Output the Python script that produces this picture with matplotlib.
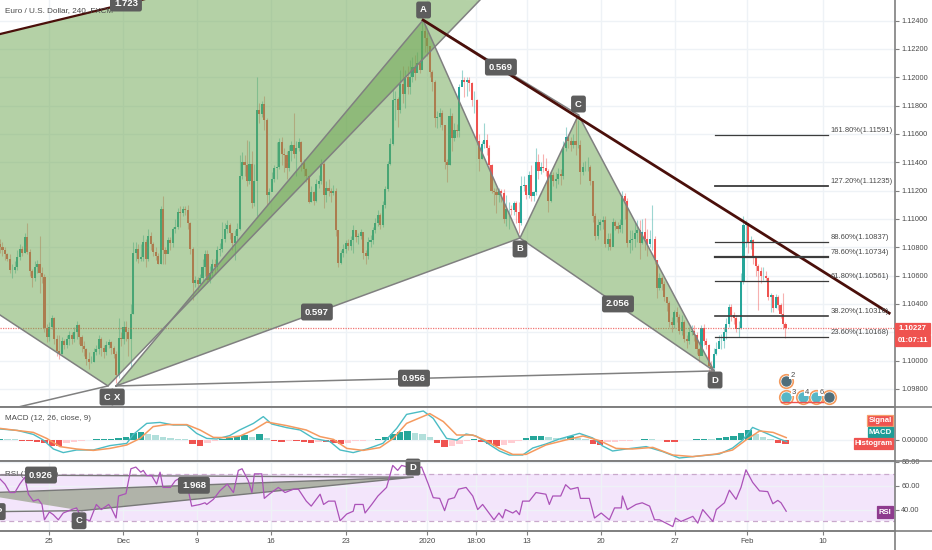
#!/usr/bin/env python3
import numpy as np
import matplotlib
matplotlib.use('Agg')
import matplotlib.pyplot as plt
from matplotlib.lines import Line2D
from matplotlib.patches import Rectangle

plt.rcParams['font.family'] = ['Liberation Sans', 'DejaVu Sans']

# candles, pips above 1.10000, one per 4h bar
closes = [80,78,75,72,64,64,66,73,79,76, 87,77,63,58,66,68,62,59,23,17,
          24,30,15,7,5,14,11,15,18,15, 20,25,17,10,8,1,-1,-1,6,8,
          15,9,6,11,13,9,5,-10,16,15, 24,20,15,33,76,79,72,73,84,72,
          88,82,77,74,68,107,78,75,85,83, 93,94,105,104,107,106,97,79,55,57,
          54,58,66,75,57,62,68,66,78,79, 86,93,96,90,83,88,93,130,140,138,
          127,139,111,127,177,174,181,170,117,119, 128,136,137,154,146,145,136,148,152,146,
          150,154,140,135,130,112,119,113,125,127, 139,117,122,120,118,120,92,69,76,79,
          83,81,85,92,87,88,91,76,74,84, 85,92,97,103,96,110,121,139,153,184,
          185,177,195,188,200,193,200,207,203,210, 205,233,228,222,204,197,171,172,175,166,
          140,138,173,157,163,162,193,198,197,198, 196,184,184,155,142,153,156,150,138,120,
          119,117,120,118,100,107,107,106,111,105, 97,123,124,117,131,116,119,140,134,137,
          136,134,113,131,127,128,132,130,150,158, 155,152,155,152,152,133,137,137,137,127,
          102,88,96,98,99,82,86,80,98,95, 93,96,116,113,83,85,86,90,92,83,
          91,86,82,86,86,71,51,58,54,45, 41,27,25,34,31,21,27,15,14,20,
          21,18,8,3,23,14,11,-4,-5,5, 8,14,14,20,26,38,32,30,22,23,
          56,96,97,84,85,73,67,63,60,60, 58,45,46,37,45,39,33,26,23]
highs = [86,84,80,76,75,68,70,78,82,81, 90,97,79,65,70,71,88,66,61,26,
         27,32,31,18,18,17,15,18,21,20, 24,28,26,18,14,9,6,3,9,11,
         18,17,11,14,15,14,10,7,30,20, 28,28,22,40,84,84,82,82,89,86,
         93,91,84,80,76,109,116,80,87,87, 94,100,108,109,109,109,110,98,80,60,
         59,61,72,78,78,67,72,72,81,83, 98,97,99,97,90,92,97,145,147,145,
         156,155,148,139,200,182,183,187,171,122, 133,138,154,157,158,150,148,152,155,175,
         155,157,155,142,136,131,123,120,128,131, 142,140,127,128,122,124,122,92,78,82,
         85,86,88,96,90,90,93,91,78,87, 89,94,101,106,104,113,123,141,157,192,
         190,186,205,208,205,208,212,214,216,218, 212,240,237,232,218,205,198,176,178,177,
         166,142,178,175,168,167,195,205,200,200, 200,197,190,185,160,155,168,160,152,139,
         122,122,122,121,121,117,112,110,113,113, 112,130,130,124,134,138,120,150,146,140,
         146,143,135,133,133,133,136,135,155,165, 160,158,160,171,170,156,140,141,144,138,
         127,104,100,100,102,102,90,90,101,99, 98,100,120,118,115,92,92,98,99,99,
         100,101,93,92,110,88,71,62,60,56, 45,42,31,36,38,33,32,29,18,24,
         25,25,20,9,25,26,16,12,0,9, 13,18,19,24,30,40,40,34,32,28,
         62,102,99,97,88,86,74,68,66,66, 63,59,48,46,47,46,41,48,27]
lows = [76,74,71,70,62,58,62,64,71,74, 76,75,60,52,56,62,48,55,20,13,
        14,22,12,3,1,5,8,9,11,12, 13,15,12,6,3,-3,-6,-2,-1,4,
        5,3,2,4,9,5,2,-16,-12,10, 12,14,3,-5,33,70,69,70,70,66,
        70,78,74,71,68,68,68,68,77,78, 80,90,93,94,102,103,93,75,43,52,
        50,54,56,60,55,55,60,61,64,74, 77,84,90,86,78,71,85,92,128,130,
        123,125,108,109,102,168,172,163,110,112, 124,126,128,135,138,133,128,134,141,143,
        130,148,134,130,126,111,112,110,112,122, 125,108,112,116,112,117,88,66,68,73,
        76,78,78,76,84,82,86,72,68,72, 80,82,90,95,93,94,108,120,138,152,
        170,165,175,182,178,188,188,197,198,204, 203,206,218,215,200,190,165,164,165,163,
        135,126,138,148,155,158,158,195,186,187, 190,180,175,152,134,142,150,145,135,118,
        110,104,112,112,97,95,93,103,103,97, 90,96,120,114,115,113,113,117,128,132,
        133,130,105,112,123,122,125,124,128,148, 150,148,150,145,150,125,131,134,134,124,
        98,85,86,92,93,80,78,78,83,92, 90,91,90,100,80,76,78,80,84,72,
        82,78,74,80,78,68,44,50,50,42, 35,24,20,23,27,19,18,13,9,12,
        18,14,5,-1,8,11,8,-8,-7,-7, 4,9,8,9,15,24,28,26,20,17,
        22,54,80,76,79,68,60,36,55,57, 56,43,34,34,37,36,30,22,16]
first_open = 82

# macd lines, units of 1e-4
macd_bars = [0,7,13.5,17.5,21.6,25.6,31,37.8,44.5,51.3,54,59.4,64.8,70.2,75.6,79.6,83.7,87.7,93,97,
             102.6,106.6,110,116,121.5,127,133.6,137.7,143,148.5,155,160.6,164.6,171.4,175.4,180.8,185,
             188.7,192.7,196.8,202.2,206.2,211.6,215.7,221,226.5,234.6,240,244,248,253.5,261.6,268.3,
             275,283,291.3,296.6,300.7,304.7,310,315.6,318.5]
macd_vals = [5.5,4.8,2.8,0,-4.5,-6.3,-5,-5,-2.8,-1.7,2.8,8.3,8.8,7.5,7.5,3.3,0.8,0.5,2.2,5,
             8.3,11.7,8,6.2,5,0.8,-0.8,-5,-6.3,-4.5,-1.7,5.8,12.8,14.5,10.8,0.8,0,
             3,2,-1.2,-5.5,-7.5,-7.5,-4,-2,0.5,3.3,1,-3,-5.5,-4.5,-3.3,-5.8,
             -9,-8,-7,-4,0,6.3,3.5,0.5,-0.8]
signal_bars = [0,6.7,13.5,18.9,24.3,31,37.8,44.5,51.3,56.7,62,67.5,75.6,81,86.4,91.8,97.2,102.6,108,116,
               124,129.6,135,140.4,147,153.8,159.2,164.6,174,179.5,184.9,
               191.4,196.8,202.2,207.6,213,221,229,236,242.7,249.4,256,264.3,272.4,280.5,290,296.6,
               302,307.5,313,318.3]
signal_vals = [5.8,4.8,3.8,0.8,-3.3,-4.5,-5.2,-4.2,-2.5,0.8,6.7,7.7,7.7,5,1.3,1.2,2,5,9,7.2,
               5,1.7,0.3,-4.2,-5.2,-3.8,0.8,8.3,13.2,9.2,2.5,
               2.5,-0.3,-4.2,-7.2,-7.2,-2.5,0,2,-0.3,-4.2,-4.5,-3.7,-7.5,-8.3,-7,-5,
               0,4.5,3.8,1.2]
# one histogram value per 3 bars
hist_vals = [0.6,0.5,0.3,-0.3,-0.6,-1,-1.5,-2.8,-3,-1.5,-0.8,-0.4,0.2,0.4,0.5,0.7,1,1.5,3.5,4,
             3,2.5,1.5,1,0.3,0.3,-2,-3,-1.5,-0.5,0.5,1,2,2.5,1.5,3,1,-0.6,-0.8,-0.5,
             -0.6,-1,-1.3,-0.9,-1,-1.5,-2,-1.5,-0.7,-0.3,0.2,0.7,1.5,2.8,4,4.5,3.5,3,1.5,-1.5,
             -3.5,-3.2,-2,-0.3,0.4,-1,-2,-3,-2.5,-1.5,-0.5,1,1.8,2,1.5,1,1,2,1,0.3,
             -2,-2.3,-1.2,-0.8,-0.5,-0.3,0.2,0.4,0.4,-0.2,-0.8,-1,-0.2,0.1,0.3,0.6,0.5,0.8,1.5,2,
             3.5,5,3.2,1.5,0.3,-1.5,-2]

rsi_bars = [0,2,4,6,8,10,11.5,13.5,15.5,17,18,20,21.6,23.6,25.6,29,31,33,36.4,39,41,44,45,47,48,51,53,55,57,58,
            59.4,61.4,63.4,64.8,66,69,71,73,75,76,77.6,81,83,83.7,86.4,89,92,94.5,96.5,98,100.5,102,103,106,107,
            109,112.7,115.4,118.8,120.8,124,126,129.6,131,133,135.6,137.7,140.4,143,143.7,147,147.8,150.5,153,
            156.5,159,161,162.6,165,167,170.7,173.4,175.4,178,180,181.5,184,185.6,188.7,
            191.4,193.4,195.4,200,202,203.5,204.6,207.6,209,210.3,211.6,214.3,217,221,222.4,223.8,227,229,231,
            234,235,238.6,240.7,243.4,246.7,248.8,251.5,252,254,257.5,260,263,265,267,269.7,272.4,273.5,275.7,
            280.5,282.5,284.5,288.6,290,293.3,295.3,298,300,302,304.7,307.5,310.8,312.9,314.9,316.2,318.3]
rsi_vals = [65.7,61.4,54.3,54.3,61.4,67.1,52.9,47.1,48.6,44.3,31.4,38,35.7,31.4,37.1,40,41.4,32.9,30.6,44.3,40,44.3,41.4,32.9,51.4,
            53.4,74.3,75.7,71.4,72.9,68.6,68.6,61.4,71.4,58.6,58.6,64.3,66.6,64.3,58.6,42.9,44.3,45.7,44.3,48.6,55.7,61.4,54.3,72.9,74.3,
            64.3,54.3,70,70,49.4,52.9,58.6,54.3,57.1,57.1,47.1,42.9,52.9,44.3,47.1,47.1,30.6,36.3,38.6,44.3,44.3,37.1,44.3,51.4,
            58.6,77.1,72.9,77.1,75.7,74.3,75.7,61.4,50,49.4,39.1,48.6,50,57.1,58.6,
            51.4,40,44.3,31.4,37.1,32.9,40,37.1,39.1,35.7,47.1,47.1,54.3,52.9,44.3,51.4,51.4,60.9,57.1,58.6,49.4,49.4,32.9,37.1,31.4,
            41.4,41.4,51.4,40,44.3,45.7,42.9,31.4,31.4,28.6,25.7,32.9,30,34.3,28.6,40,30,40,45.7,56.3,48.6,58.6,73.4,62.9,55.7,55.1,44.9,47.7,45.7,38.6]

# fibonacci levels and pattern drawings
fib_labels = ['161.80%(1.11591)', '127.20%(1.11235)', '88.60%(1.10837)', '78.60%(1.10734)',
              '61.80%(1.10561)', '38.20%(1.10316)', '23.60%(1.10168)']
fib_prices = [1.11591, 1.11235, 1.10837, 1.10734, 1.10561, 1.10316, 1.10168]
fib_widths = [0.9, 1.3, 0.9, 1.6, 0.9, 1.2, 0.9]
fib_start, fib_end = 289.5, 335.2

x_bar, x_price = 47, 1.09821
a_bar, a_price = 171.3, 1.12404
b_bar, b_price = 210.5, 1.10865
c_bar, c_price = 234.2, 1.11734
d_bar, d_price = 289.1, 1.09927
old_bars = [0, 58.7, 194.3, 43.7, 0]
old_prices = [1.12305, 1.12552, 1.12545, 1.09821, 1.10322]
trend_bars = [171.3, 360]
trend_prices = [1.12404, 1.10335]
old_trend_bars = [0, 58.7]
old_trend_prices = [1.12305, 1.12552]

rsi_tri_bars = [0, 167.2, 33.2, 0]
rsi_tri_vals = [54.5, 67.2, 39.1, 50.2]

price_ticks = [1.124, 1.122, 1.12, 1.118, 1.116, 1.114, 1.112, 1.11, 1.108, 1.106, 1.104, 1.102, 1.1, 1.098]
x_ticks = [20, 49.8, 79.8, 109.7, 139.9, 172.9, 192.7, 213.4, 243.3, 273.3, 302.4, 333.2]
x_labels = ['25', 'Dec', '9', '16', '23', '2020', '18:00', '13', '20', '27', 'Feb', '10']

W, H = 932.0, 550.0
GREEN = '#26a69a'
RED = '#ef5350'
FILL = (107/255, 165/255, 79/255)
GRID = '#eef2f6'
AX = '#7f7f7f'
TXT = '#4a4a4a'


def panel(top, bottom):
    return fig.add_axes([0, 1 - bottom / H, 895 / W, (bottom - top) / H])


def tag(ax, x, y, s, z=9, **kw):
    ax.text(x, y, s, color='white', fontsize=6.8, fontweight='bold', ha='center', va='center', zorder=z,
            bbox=dict(boxstyle='round,pad=0.42,rounding_size=0.25', fc='#5d5d5d', ec='none'), **kw)


def side(x0, y0, x1, y1, s, fc, ec=None):
    fig.add_artist(Rectangle((x0 / W, 1 - y1 / H), (x1 - x0) / W, (y1 - y0) / H, transform=fig.transFigure,
                             fc=fc, ec=ec or fc, lw=0.9, zorder=20))
    fig.text((x0 + x1) / 2 / W, 1 - (y0 + y1) / 2 / H, s, color='white', fontsize=5.6, fontweight='bold',
             ha='center', va='center', zorder=21)


fig = plt.figure(figsize=(W / 100, H / 100), dpi=100)
ax = panel(0, 407)
ax2 = panel(407, 461)
ax3 = panel(461, 531)

for a in (ax, ax2, ax3):
    a.set_xlim(0, 895 / 2.47)
    a.set_xticks(x_ticks)
    a.grid(True, color=GRID, lw=1)
    a.set_axisbelow(True)
    a.yaxis.tick_right()
    a.tick_params(axis='y', length=3, color=AX, labelcolor=TXT, labelsize=5.3, pad=1.5, width=0.8)
    for s in a.spines.values():
        s.set_color(AX)
        s.set_linewidth(1.2)
    a.spines['left'].set_visible(False)
ax.spines['top'].set_visible(False)

# main price panel
closes_a = np.array(closes)
opens_a = np.r_[first_open, closes_a[:-1]]
bars = np.arange(len(closes_a))
up = closes_a >= opens_a
colors = np.where(up, GREEN, RED)
to_price = lambda p: 1.10 + np.asarray(p) * 1e-4
ax.vlines(bars, to_price(lows), to_price(highs), colors=colors, lw=0.8, alpha=0.45, zorder=2)
ax.bar(bars, to_price(closes_a) - to_price(opens_a), bottom=to_price(opens_a), width=0.85, color=colors, zorder=2.5)

ax.axhline(1.10227, color=RED, lw=0.9, ls=(0, (1, 1)), alpha=0.8, zorder=3)

ax.fill(old_bars, old_prices, color=FILL, alpha=0.5, lw=0, zorder=3)
ax.fill([x_bar, a_bar, b_bar], [x_price, a_price, b_price], color=FILL, alpha=0.5, lw=0, zorder=3)
ax.fill([b_bar, c_bar, d_bar], [b_price, c_price, d_price], color=FILL, alpha=0.5, lw=0, zorder=3)
edge = dict(color='#808080', lw=1.1, zorder=4)
ax.plot([x_bar, a_bar, b_bar, c_bar, d_bar, b_bar, x_bar], [x_price, a_price, b_price, c_price, d_price, b_price, x_price], **edge)
ax.plot([x_bar, d_bar], [x_price, d_price], **edge)
ax.plot([a_bar, c_bar], [a_price, c_price], **edge)
ax.plot([0, 43.7, 194.3], [1.10322, 1.09821, 1.12545], **edge)
ax.plot([43.7, 7.3], [1.09821, 1.09672], **edge)
ax.plot(trend_bars, trend_prices, color='#4a0f0a', lw=2.0, zorder=5)
ax.plot(old_trend_bars, old_trend_prices, color='#4a0f0a', lw=1.6, zorder=5)

for p, s, w in zip(fib_prices, fib_labels, fib_widths):
    ax.plot([fib_start, fib_end], [p, p], color='#3c3c3c', lw=w, zorder=5)
    ax.text(fib_end + 1.2, p + 0.0003, s, color=TXT, fontsize=5.5, va='center', zorder=6)

tag(ax, 43.3, 1.09743, 'C', z=8)
tag(ax, 47.6, 1.09743, 'X')
tag(ax, 171.5, 1.12475, 'A')
tag(ax, 234.2, 1.11811, 'C')
tag(ax, 210.5, 1.10788, 'B')
tag(ax, 289.5, 1.09863, 'D')
tag(ax, 128.3, 1.10343, '0.597')
tag(ax, 202.8, 1.12072, '0.569')
tag(ax, 250.2, 1.104, '2.056')
tag(ax, 167.6, 1.09876, '0.956')
tag(ax, 51, 1.12524, '1.723', clip_on=True)

ax.scatter([318.2, 318.2, 325.1, 330.4, 335.6], [1.09856, 1.09743, 1.09743, 1.09743, 1.09743], s=95,
           c='white', edgecolors='#f39a5e', linewidths=1.2, zorder=6)
ax.scatter([318.2, 335.6], [1.09856, 1.09743], s=42, c='#4f6d7a', zorder=7)
ax.scatter([318.2, 325.1, 330.4], [1.09743, 1.09743, 1.09743], s=42, c='#56b6c6', zorder=7)
ax.plot([316, 320.5, 327, 329, 333], [1.09705] * 5, color=RED, lw=1, zorder=7)
for bx, py, s in [(320.8, 1.09897, '2'), (321.3, 1.09778, '3'), (326.8, 1.09778, '4'), (332.5, 1.09778, '6')]:
    ax.text(bx, py, s, color=TXT, fontsize=5.5, ha='center', va='center', zorder=8,
            bbox=dict(boxstyle='square,pad=0.1', fc='white', ec='none'))

ax.set_ylim(1.10 + (360.6 - 407) / 14167, 1.10 + 360.6 / 14167)
ax.set_yticks(price_ticks)
ax.set_yticklabels(['%.5f' % p for p in price_ticks])
ax.tick_params(axis='x', length=0, labelbottom=False)
ax.text(2, 1.12468, 'Euro / U.S. Dollar, 240, FXCM', color=TXT, fontsize=5.9, va='center', zorder=6)
side(895, 323, 930, 334, '1.10227', RED)
side(895, 335, 930, 346, '01:07:11', RED)

# macd panel
hist = np.array(hist_vals)
hist_bars = np.arange(len(hist)) * 3
prev = np.r_[0, hist[:-1]]
hist_colors = [(GREEN if h > p else '#b2dfdb') if h >= 0 else (RED if h < p else '#ffcdd2') for h, p in zip(hist, prev)]
ax2.bar(hist_bars, hist, width=2.6, color=hist_colors, zorder=2)
ax2.plot(macd_bars, macd_vals, color='#4bbcc4', lw=1.0, zorder=3)
ax2.plot(signal_bars, signal_vals, color='#f59a5f', lw=1.1, zorder=4)
ax2.set_ylim(-10.5, 16.5)
ax2.set_yticks([0])
ax2.set_yticklabels(['0.00000'])
ax2.tick_params(axis='x', length=0, labelbottom=False)
ax2.text(2, 10.5, 'MACD (12, 26, close, 9)', color=TXT, fontsize=5.8, va='center')
side(867, 415, 893, 426, 'Signal', RED, ec='#f5a06c')
side(868, 427, 893, 437, 'MACD', '#1e9c96')
side(854, 438, 893, 449, 'Histogram', RED)

# rsi panel
ax3.axhspan(30, 70, color='#f3e5fb', zorder=0.5, lw=0)
ax3.axhline(70, color='#c9a9cc', lw=0.9, ls=(0, (4, 3)), zorder=1)
ax3.axhline(30, color='#c9a9cc', lw=0.9, ls=(0, (4, 3)), zorder=1)
ax3.fill(rsi_tri_bars, rsi_tri_vals, color='#7a8a66', alpha=0.55, lw=0, zorder=2)
ax3.plot(rsi_tri_bars[:3], rsi_tri_vals[:3], color='#787878', lw=1, zorder=2)
ax3.plot([0, 167.2], [69, 67.2], color='#787878', lw=1, zorder=2)
ax3.plot([0, 33.2], [38.3, 39.1], color='#787878', lw=1, zorder=2)
ax3.plot(rsi_bars, rsi_vals, color='#ab52b8', lw=0.9, zorder=3)
ax3.set_ylim(22, 80.8)
ax3.set_yticks([40, 60, 80])
ax3.set_yticklabels(['40.00', '60.00', '80.00'])
ax3.set_xticklabels(x_labels)
ax3.tick_params(axis='x', length=3, color=AX, labelcolor=TXT, labelsize=5.6, pad=2, width=0.8)
ax3.text(2, 69.5, 'RSI (14, close)', color=TXT, fontsize=5.8, va='center', zorder=1.5)
tag(ax3, 16.6, 69, '0.926')
tag(ax3, 78.5, 60.4, '1.968')
tag(ax3, 32, 30.6, 'C')
tag(ax3, 167.2, 75.7, 'D')
tag(ax3, -0.6, 38.3, 'P')
side(877, 506, 893, 518, 'RSI', '#8e3b8e')

for yy in (407, 461, 531):
    fig.add_artist(Line2D([0, 1], [1 - yy / H, 1 - yy / H], color=AX, lw=1.2))
fig.add_artist(Line2D([895 / W, 895 / W], [0, 1 - 531 / H], color=AX, lw=1.2))

fig.savefig('out.png', dpi=100)
